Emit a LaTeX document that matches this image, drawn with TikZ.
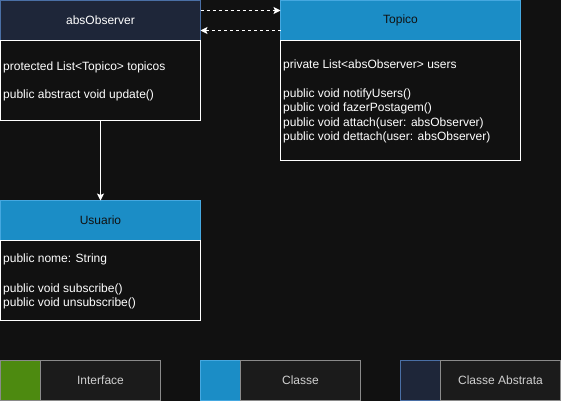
\documentclass[tikz,border=0pt]{standalone}
\usepackage{fontspec}
\setmainfont{Liberation Sans}
\usetikzlibrary{arrows.meta}
\definecolor{bgc}{HTML}{111111}
\definecolor{navyc}{HTML}{1E2639}
\definecolor{navyline}{HTML}{4A6FA5}
\definecolor{clsblue}{HTML}{1B8DC6}
\definecolor{clsline}{HTML}{45A8E0}
\definecolor{ifgreen}{HTML}{4D8A10}
\definecolor{legbg}{HTML}{1B1B1B}
\definecolor{legline}{HTML}{8A8A8A}
\definecolor{legtext}{HTML}{D0D0D0}
\begin{document}
\begin{tikzpicture}[x=1pt,y=-1pt,
  every node/.style={font=\fontsize{12}{14}\selectfont},
  hdr/.style={line width=1pt, minimum height=40pt, anchor=north west, inner sep=0pt, outer sep=0pt},
  abshdr/.style={hdr, draw=navyline, fill=navyc, text=white},
  clshdr/.style={hdr, draw=clsline, fill=clsblue, text=bgc},
  bodybox/.style={draw=white, line width=1pt, fill=bgc, anchor=north west, inner sep=0pt, outer sep=0pt},
  txt/.style={anchor=west, text=white, inner sep=0pt},
  swatch/.style={line width=1pt, minimum width=40pt, minimum height=40pt, anchor=north west, inner sep=0pt, outer sep=0pt},
  legbox/.style={draw=legline, fill=legbg, text=legtext, line width=1pt, minimum height=40pt, anchor=north west, inner sep=0pt, outer sep=0pt},
  tip/.style={-{Stealth[length=7pt,width=7pt,inset=1.5pt]}},
  conn/.style={draw=white, line width=1pt},
  dashconn/.style={conn, dash pattern=on 3pt off 3pt}
]
\useasboundingbox[fill=bgc] (0,0) rectangle (561,401);

% absObserver
\node[abshdr, minimum width=200pt] (aoHead) at (0.5,0.5) {absObserver};
\node[bodybox, minimum width=200pt, minimum height=80pt] (aoBody) at (0.5,40.5) {};
\node[txt] (ao1) at (3,67) {protected List<Topico> topicos};
\node[txt] (ao2) at (3,95) {public abstract void update()};

% Topico
\node[clshdr, minimum width=240pt] (tpHead) at (280.5,0.5) {Topico};
\node[bodybox, minimum width=240pt, minimum height=120pt] (tpBody) at (280.5,40.5) {};
\node[txt] (tp1) at (283,65) {private List<absObserver> users};
\node[txt] (tp2) at (283,94) {public void notifyUsers()};
\node[txt] (tp3) at (283,108.5) {public void fazerPostagem()};
\node[txt] (tp4) at (283,123) {public void attach(user: absObserver)};
\node[txt] (tp5) at (283,137.5) {public void dettach(user: absObserver)};

% Usuario
\node[clshdr, minimum width=200pt] (usHead) at (0.5,200.5) {Usuario};
\node[bodybox, minimum width=200pt, minimum height=80pt] (usBody) at (0.5,240.5) {};
\node[txt] (us1) at (3,259.5) {public nome: String};
\node[txt] (us2) at (3,289) {public void subscribe()};
\node[txt] (us3) at (3,303.5) {public void unsubscribe()};

% connectors
\draw[conn, tip] (aoBody.south) -- (usHead.north);
\draw[dashconn, tip] ([yshift=10pt]aoHead.east) -- ([yshift=10pt]tpHead.west);
\draw[dashconn, tip] ([yshift=-10pt]tpHead.west) -- ([yshift=-10pt]aoHead.east);

% legend
\node[swatch, draw=legline, fill=ifgreen] (lgIf) at (0.5,360.5) {};
\node[legbox, minimum width=120pt] (lgIfT) at (40.5,360.5) {Interface};
\node[swatch, draw=clsline, fill=clsblue] (lgCl) at (200.5,360.5) {};
\node[legbox, minimum width=120pt] (lgClT) at (240.5,360.5) {Classe};
\node[swatch, draw=navyline, fill=navyc] (lgAb) at (400.5,360.5) {};
\node[legbox, minimum width=120pt] (lgAbT) at (440.5,360.5) {Classe Abstrata};
\end{tikzpicture}
\end{document}
